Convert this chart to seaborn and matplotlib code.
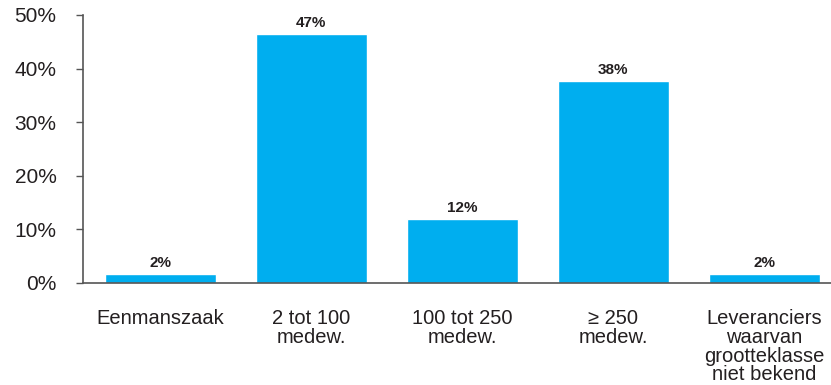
import matplotlib
matplotlib.use("Agg")
import matplotlib.pyplot as plt
import seaborn as sns
import pandas as pd

categories = ["Eenmanszaak", "2 tot 100\nmedew.", "100 tot 250\nmedew.", "≥ 250\nmedew.",
              "Leveranciers\nwaarvan\ngrootteklasse\nniet bekend"]
values = [1.7, 46.5, 11.9, 37.6, 1.7]
value_labels = ["2%", "47%", "12%", "38%", "2%"]
yticks = [0, 10, 20, 30, 40, 50]
ytick_labels = ["0%", "10%", "20%", "30%", "40%", "50%"]

sns.set_style("white")
plt.rcParams["font.family"] = ["Liberation Sans", "DejaVu Sans"]
text_color = "#231F20"
axis_color = "#555555"

df = pd.DataFrame({"cat": categories, "val": values})

fig = plt.figure(figsize=(8.31, 3.85), dpi=100)
ax = fig.add_axes([83 / 831, 102 / 385, 1 - 83 / 831, (283 - 15) / 385])

sns.barplot(data=df, x="cat", y="val", color="#00AEEF", saturation=1, width=0.735, ax=ax)

ax.set_xlim(-0.51, 4.44)
ax.set_ylim(0, 50)
ax.set_yticks(yticks)
ax.set_yticklabels(ytick_labels)
ax.set_xlabel("")
ax.set_ylabel("")

for s in ["top", "right"]:
    ax.spines[s].set_visible(False)
for s in ["left", "bottom"]:
    ax.spines[s].set_color(axis_color)
    ax.spines[s].set_linewidth(1.2)

ax.tick_params(axis="y", length=5, width=1.0, color=axis_color, labelsize=15, labelcolor=text_color, pad=14, direction="out", left=True)
ax.tick_params(axis="x", length=0, labelsize=14.5, labelcolor=text_color, pad=19)
for lbl in ax.get_xticklabels():
    lbl.set_linespacing(0.98)
    lbl.set_verticalalignment("top")

for container in ax.containers:
    ax.bar_label(container, labels=value_labels, fontsize=11, fontweight="bold",
                 color=text_color, padding=3)

fig.savefig("out.png", dpi=100)
